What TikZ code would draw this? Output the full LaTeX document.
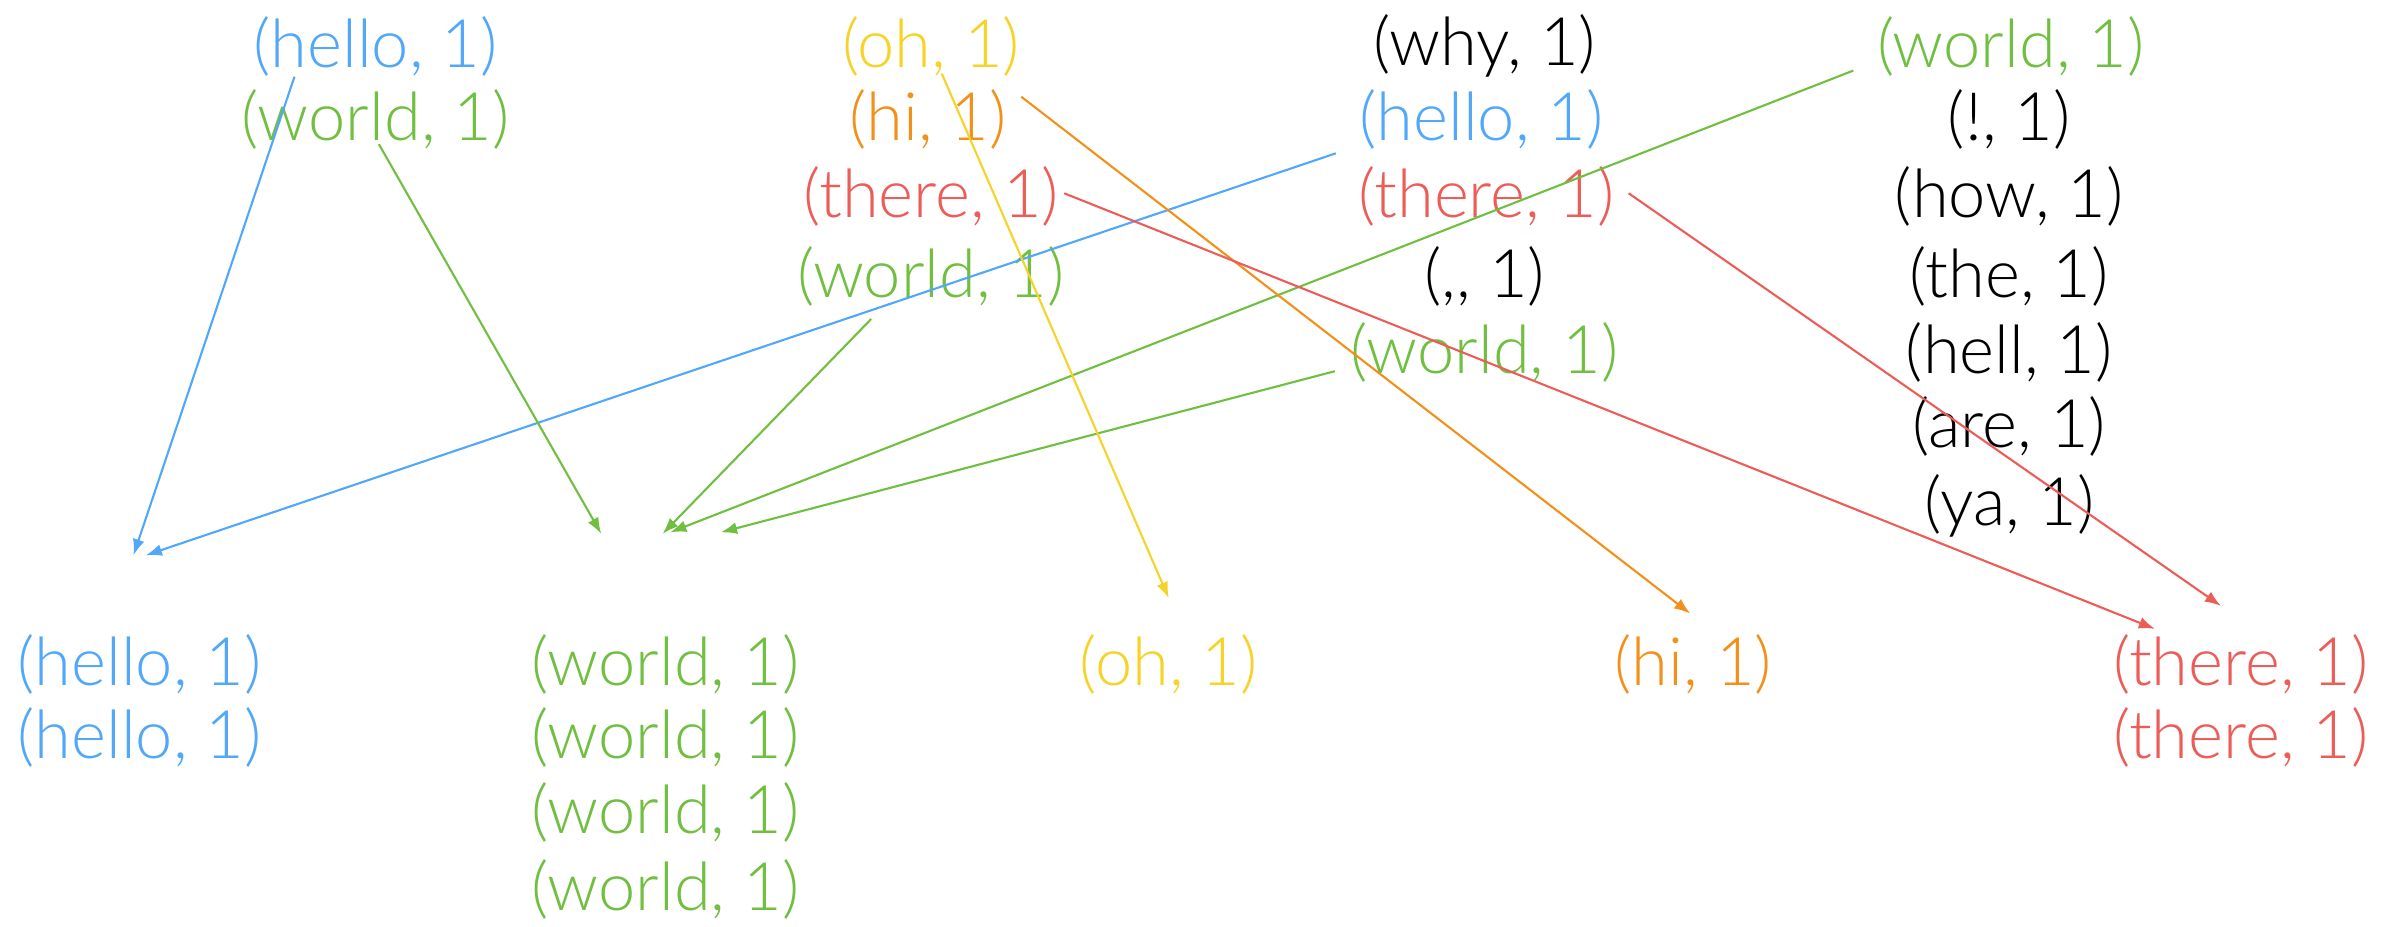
\documentclass[tikz,border=0pt]{standalone}
\usepackage{fontspec}
\setmainfont{Lato}[UprightFont={* Light}]
\usepackage{tikz}
\usetikzlibrary{arrows.meta,calc}
\definecolor{kblue}{RGB}{81,167,249}
\definecolor{kgreen}{RGB}{112,191,65}
\definecolor{kyellow}{RGB}{245,211,40}
\definecolor{korange}{RGB}{243,144,25}
\definecolor{kred}{RGB}{236,93,87}

\begin{document}
\begin{tikzpicture}[x=0.01534cm,y=-0.01534cm,
  pair/.style={inner sep=0pt,font=\fontsize{19pt}{22pt}\selectfont},
  arr/.style={-{Latex[length=4.6pt,width=3.4pt]},line width=0.6pt}]
\useasboundingbox (0,0) rectangle (1568,604);
% input splits
\node[pair,kblue] (in1hello) at (245,30) {(hello, 1)};
\node[pair,kgreen] (in1world) at (245,78) {(world, 1)};
\node[pair,kyellow] (in2oh) at (607,30) {(oh, 1)};
\node[pair,korange] (in2hi) at (605,78) {(hi, 1)};
\node[pair,kred] (in2there) at (607,128) {(there, 1)};
\node[pair,kgreen] (in2world) at (607,180) {(world, 1)};
\node[pair] (in3why) at (968,30) {(why, 1)};
\node[pair,kblue] (in3hello) at (966,78) {(hello, 1)};
\node[pair,kred] (in3there) at (969,128) {(there, 1)};
\node[pair] (in3comma) at (968,180) {(,{},~1)};
\node[pair,kgreen] (in3world) at (968,230) {(world, 1)};
\node[pair,kgreen] (in4world) at (1311,30) {(world, 1)};
\node[pair] (in4bang) at (1310,78) {(!, 1)};
\node[pair] (in4how) at (1310,128) {(how, 1)};
\node[pair] (in4the) at (1310,180) {(the, 1)};
\node[pair] (in4hell) at (1310,230) {(hell, 1)};
\node[pair] (in4are) at (1310,278) {(are, 1)};
\node[pair] (in4ya) at (1310,330) {(ya, 1)};
% grouped output
\node[pair,kblue] (outhello) at (91,433) {(hello, 1)};
\node[pair,kblue] (outhello2) at (91,481) {(hello, 1)};
\node[pair,kgreen] (outworld) at (434,433) {(world, 1)};
\node[pair,kgreen] (outworld2) at (434,481) {(world, 1)};
\node[pair,kgreen] (outworld3) at (434,530) {(world, 1)};
\node[pair,kgreen] (outworld4) at (434,580) {(world, 1)};
\node[pair,kyellow] (outoh) at (762,433) {(oh, 1)};
\node[pair,korange] (outhi) at (1104,433) {(hi, 1)};
\node[pair,kred] (outthere) at (1461,433) {(there, 1)};
\node[pair,kred] (outthere2) at (1461,481) {(there, 1)};
% shuffle
\draw[arr,kblue] ($(in1hello.south)+(-53,0)$) -- ($(outhello.north)+(-4,-51)$);
\draw[arr,kblue] ($(in3hello.south west)+(-15,2)$) -- ($(outhello.north)+(4,-51)$);
\draw[arr,kgreen] ($(in1world.south)+(2,-4)$) -- ($(outworld.north)+(-42,-65)$);
\draw[arr,kgreen] ($(in2world.south)+(-39,8)$) -- ($(outworld.north)+(-2,-65)$);
\draw[arr,kgreen] ($(in4world.west)+(-15,16)$) -- ($(outworld.north)+(3,-66)$);
\draw[arr,kgreen] ($(in3world.west)+(-10,12)$) -- ($(outworld.north)+(36,-66)$);
\draw[arr,kyellow] ($(in2oh.south)+(7,-2)$) -- ($(outoh.north)+(0,-23)$);
\draw[arr,korange] ($(in2hi.north east)+(9,5)$) -- ($(outhi.north)+(-2,-13)$);
\draw[arr,kred] ($(in2there.east)+(3,-2)$) -- ($(outthere.north)+(-56,-3)$);
\draw[arr,kred] ($(in3there.east)+(9,-2)$) -- ($(outthere.north)+(-13,-18)$);
\end{tikzpicture}
\end{document}
